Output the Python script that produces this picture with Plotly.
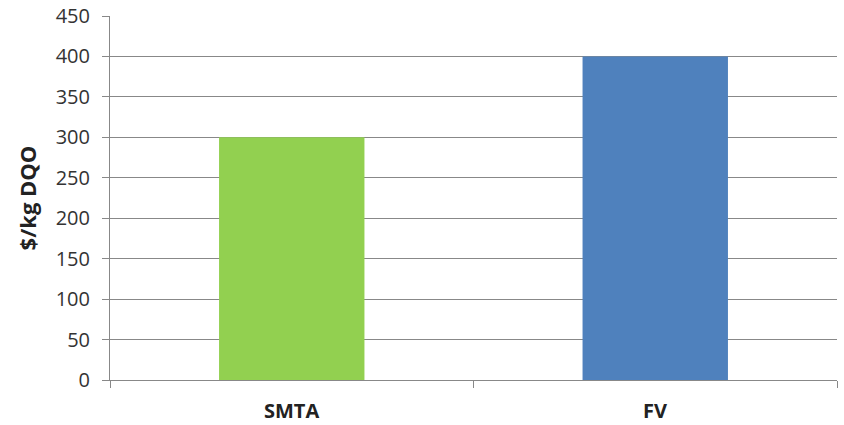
import plotly.graph_objects as go

categories = ["SMTA", "FV"]
values = [300, 400]
colors = ["#92D050", "#4F81BD"]
y_ticks = [0, 50, 100, 150, 200, 250, 300, 350, 400, 450]

fig = go.Figure(go.Bar(x=categories, y=values, marker=dict(color=colors, line=dict(width=0)), width=0.4))

fig.update_layout(
    width=844, height=425,
    margin=dict(l=110, r=7, t=16, b=45),
    paper_bgcolor="white", plot_bgcolor="white",
    showlegend=False,
    font=dict(family="Open Sans", color="#333333"),
)
fig.update_yaxes(
    automargin=False,
    range=[0, 450], tickvals=y_ticks, ticktext=[str(v) for v in y_ticks],
    showgrid=True, gridcolor="#888888", gridwidth=1,
    showline=True, linecolor="#888888", linewidth=1,
    ticks="outside", ticklen=7, tickcolor="#888888",
    ticklabelstandoff=8,
    tickfont=dict(size=20, color="#333333"),
    title=dict(text="<b>$/kg DQO</b>", font=dict(size=22, color="#222222"), standoff=12),
    zeroline=False,
)
fig.update_xaxes(
    automargin=False,
    showline=True, linecolor="#888888", linewidth=1,
    ticks="outside", ticklen=7, tickcolor="#888888",
    tickmode="array", tickvals=[-0.5, 0.5, 1.5], ticktext=["", "", ""],
    range=[-0.5, 1.5],
)
for c in categories:
    fig.add_annotation(x=c, y=0, yref="y", yshift=-30, text=f"<b>{c}</b>", showarrow=False,
                       font=dict(size=20, color="#222222"))

fig.write_html("out.html")
